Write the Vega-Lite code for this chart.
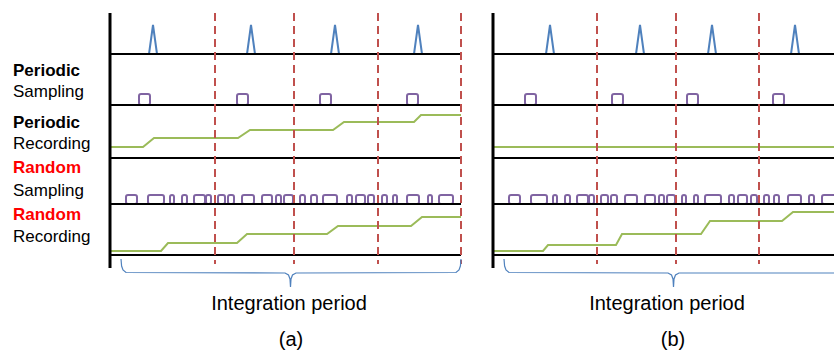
{
  "$schema": "https://vega.github.io/schema/vega-lite/v6.json",
  "width": 834,
  "height": 353,
  "padding": 0,
  "autosize": {"type": "none"},
  "config": {"view": {"stroke": null}},
  "datasets": {
    "pulses": [
      {"x": 139, "x2": 150, "y": 94, "y2": 105}, {"x": 237, "x2": 248, "y": 94, "y2": 105},
      {"x": 320, "x2": 331, "y": 94, "y2": 105}, {"x": 407, "x2": 418, "y": 94, "y2": 105},
      {"x": 525, "x2": 536, "y": 94, "y2": 105}, {"x": 612, "x2": 623, "y": 94, "y2": 105},
      {"x": 687, "x2": 698, "y": 94, "y2": 105}, {"x": 773, "x2": 784, "y": 94, "y2": 105},
      {"x": 126, "x2": 137, "y": 195, "y2": 204}, {"x": 148, "x2": 164, "y": 195, "y2": 204},
      {"x": 170, "x2": 174, "y": 195, "y2": 204}, {"x": 182, "x2": 187, "y": 195, "y2": 204},
      {"x": 194, "x2": 205, "y": 195, "y2": 204}, {"x": 206, "x2": 211, "y": 195, "y2": 204},
      {"x": 218, "x2": 225, "y": 195, "y2": 204}, {"x": 228, "x2": 234, "y": 195, "y2": 204},
      {"x": 242, "x2": 254, "y": 195, "y2": 204}, {"x": 262, "x2": 272, "y": 195, "y2": 204},
      {"x": 276, "x2": 281, "y": 195, "y2": 204}, {"x": 284, "x2": 293, "y": 195, "y2": 204},
      {"x": 300, "x2": 305, "y": 195, "y2": 204}, {"x": 311, "x2": 317, "y": 195, "y2": 204},
      {"x": 323, "x2": 337, "y": 195, "y2": 204}, {"x": 347, "x2": 352, "y": 195, "y2": 204},
      {"x": 356, "x2": 365, "y": 195, "y2": 204}, {"x": 368, "x2": 374, "y": 195, "y2": 204},
      {"x": 382, "x2": 387, "y": 195, "y2": 204}, {"x": 393, "x2": 397, "y": 195, "y2": 204},
      {"x": 407, "x2": 419, "y": 195, "y2": 204}, {"x": 428, "x2": 432, "y": 195, "y2": 204},
      {"x": 439, "x2": 453, "y": 195, "y2": 204},
      {"x": 509, "x2": 520, "y": 195, "y2": 204}, {"x": 531, "x2": 547, "y": 195, "y2": 204},
      {"x": 553, "x2": 557, "y": 195, "y2": 204}, {"x": 565, "x2": 570, "y": 195, "y2": 204},
      {"x": 577, "x2": 588, "y": 195, "y2": 204}, {"x": 589, "x2": 594, "y": 195, "y2": 204},
      {"x": 601, "x2": 608, "y": 195, "y2": 204}, {"x": 611, "x2": 617, "y": 195, "y2": 204},
      {"x": 625, "x2": 637, "y": 195, "y2": 204}, {"x": 645, "x2": 655, "y": 195, "y2": 204},
      {"x": 659, "x2": 664, "y": 195, "y2": 204}, {"x": 667, "x2": 675, "y": 195, "y2": 204},
      {"x": 682, "x2": 686, "y": 195, "y2": 204}, {"x": 694, "x2": 698, "y": 195, "y2": 204},
      {"x": 705, "x2": 721, "y": 195, "y2": 204}, {"x": 729, "x2": 734, "y": 195, "y2": 204},
      {"x": 738, "x2": 747, "y": 195, "y2": 204}, {"x": 751, "x2": 757, "y": 195, "y2": 204},
      {"x": 764, "x2": 769, "y": 195, "y2": 204}, {"x": 774, "x2": 779, "y": 195, "y2": 204},
      {"x": 788, "x2": 801, "y": 195, "y2": 204}, {"x": 809, "x2": 814, "y": 195, "y2": 204},
      {"x": 822, "x2": 837, "y": 195, "y2": 204}
    ],
    "hlines": [
      {"x": 110, "x2": 461, "y": 54}, {"x": 110, "x2": 461, "y": 105}, {"x": 110, "x2": 461, "y": 158},
      {"x": 110, "x2": 461, "y": 204}, {"x": 110, "x2": 461, "y": 255},
      {"x": 493, "x2": 834, "y": 54}, {"x": 493, "x2": 834, "y": 105}, {"x": 493, "x2": 834, "y": 158},
      {"x": 493, "x2": 834, "y": 204}, {"x": 493, "x2": 834, "y": 255}
    ],
    "vaxes": [
      {"x": 110, "y": 13, "y2": 268}, {"x": 493, "y": 13, "y2": 268}
    ],
    "dashes": [
      {"x": 215, "y": 13, "y2": 264}, {"x": 294, "y": 13, "y2": 264}, {"x": 378, "y": 13, "y2": 264},
      {"x": 461, "y": 13, "y2": 264}, {"x": 597, "y": 13, "y2": 264}, {"x": 676, "y": 13, "y2": 264},
      {"x": 759, "y": 13, "y2": 264}
    ],
    "spikes": [
      {"id": "a1", "x": 149, "y": 54}, {"id": "a1", "x": 153, "y": 25}, {"id": "a1", "x": 157, "y": 54},
      {"id": "a2", "x": 247, "y": 54}, {"id": "a2", "x": 251, "y": 25}, {"id": "a2", "x": 255, "y": 54},
      {"id": "a3", "x": 331, "y": 54}, {"id": "a3", "x": 335, "y": 25}, {"id": "a3", "x": 339, "y": 54},
      {"id": "a4", "x": 414, "y": 54}, {"id": "a4", "x": 418, "y": 25}, {"id": "a4", "x": 422, "y": 54},
      {"id": "b1", "x": 546, "y": 54}, {"id": "b1", "x": 550, "y": 25}, {"id": "b1", "x": 554, "y": 54},
      {"id": "b2", "x": 636, "y": 54}, {"id": "b2", "x": 640, "y": 25}, {"id": "b2", "x": 644, "y": 54},
      {"id": "b3", "x": 708, "y": 54}, {"id": "b3", "x": 712, "y": 25}, {"id": "b3", "x": 716, "y": 54},
      {"id": "b4", "x": 791, "y": 54}, {"id": "b4", "x": 795, "y": 25}, {"id": "b4", "x": 799, "y": 54}
    ],
    "steps": [
      {"id": "pa", "x": 110, "y": 147}, {"id": "pa", "x": 143, "y": 147}, {"id": "pa", "x": 154, "y": 138},
      {"id": "pa", "x": 238, "y": 138}, {"id": "pa", "x": 250, "y": 130}, {"id": "pa", "x": 333, "y": 130},
      {"id": "pa", "x": 344, "y": 122}, {"id": "pa", "x": 414, "y": 122}, {"id": "pa", "x": 421, "y": 115},
      {"id": "pa", "x": 461, "y": 115},
      {"id": "ra", "x": 110, "y": 251}, {"id": "ra", "x": 161, "y": 251}, {"id": "ra", "x": 168, "y": 243},
      {"id": "ra", "x": 237, "y": 243}, {"id": "ra", "x": 247, "y": 234}, {"id": "ra", "x": 327, "y": 234},
      {"id": "ra", "x": 338, "y": 226}, {"id": "ra", "x": 411, "y": 226}, {"id": "ra", "x": 422, "y": 217},
      {"id": "ra", "x": 461, "y": 217},
      {"id": "pb", "x": 493, "y": 147}, {"id": "pb", "x": 834, "y": 147},
      {"id": "rb", "x": 493, "y": 251}, {"id": "rb", "x": 543, "y": 251}, {"id": "rb", "x": 548, "y": 245},
      {"id": "rb", "x": 616, "y": 245}, {"id": "rb", "x": 622, "y": 234}, {"id": "rb", "x": 701, "y": 234},
      {"id": "rb", "x": 710, "y": 221}, {"id": "rb", "x": 782, "y": 221}, {"id": "rb", "x": 793, "y": 212},
      {"id": "rb", "x": 834, "y": 212}
    ],
    "braces": [
      {"id": "a", "x": 121, "y": 259}, {"id": "a", "x": 121.6, "y": 266}, {"id": "a", "x": 123, "y": 270},
      {"id": "a", "x": 126, "y": 272.5}, {"id": "a", "x": 285, "y": 273}, {"id": "a", "x": 288.5, "y": 275},
      {"id": "a", "x": 290, "y": 279}, {"id": "a", "x": 290.5, "y": 287}, {"id": "a", "x": 291, "y": 279},
      {"id": "a", "x": 292.5, "y": 275}, {"id": "a", "x": 296, "y": 273}, {"id": "a", "x": 456, "y": 272.5},
      {"id": "a", "x": 459, "y": 270}, {"id": "a", "x": 460.4, "y": 266}, {"id": "a", "x": 461, "y": 259},
      {"id": "b", "x": 504, "y": 259}, {"id": "b", "x": 504.6, "y": 266}, {"id": "b", "x": 506, "y": 270},
      {"id": "b", "x": 509, "y": 272.5}, {"id": "b", "x": 668, "y": 273}, {"id": "b", "x": 671.5, "y": 275},
      {"id": "b", "x": 673, "y": 279}, {"id": "b", "x": 673.5, "y": 287}, {"id": "b", "x": 674, "y": 279},
      {"id": "b", "x": 675.5, "y": 275}, {"id": "b", "x": 679, "y": 273}, {"id": "b", "x": 840, "y": 273}
    ],
    "labels": [
      {"t": "Periodic", "x": 13, "y": 76, "k": "bold"},
      {"t": "Sampling", "x": 13, "y": 97, "k": "norm"},
      {"t": "Periodic", "x": 13, "y": 128, "k": "bold"},
      {"t": "Recording", "x": 13, "y": 149, "k": "norm"},
      {"t": "Random", "x": 13, "y": 173, "k": "red"},
      {"t": "Sampling", "x": 13, "y": 196, "k": "norm"},
      {"t": "Random", "x": 13, "y": 220, "k": "red"},
      {"t": "Recording", "x": 13, "y": 242, "k": "norm"}
    ],
    "captions": [
      {"t": "Integration period", "x": 289, "y": 310},
      {"t": "Integration period", "x": 667, "y": 310},
      {"t": "(a)", "x": 291, "y": 346},
      {"t": "(b)", "x": 673, "y": 346}
    ]
  },
  "layer": [
    {
      "data": {"name": "pulses"},
      "mark": {"type": "rect", "stroke": "#8064A2", "strokeWidth": 2, "fill": "white", "fillOpacity": 0, "cornerRadius": 2},
      "encoding": {
        "x": {"field": "x", "type": "quantitative", "scale": {"domain": [0, 834], "nice": false, "zero": false}, "axis": null},
        "x2": {"field": "x2"},
        "y": {"field": "y", "type": "quantitative", "scale": {"domain": [0, 353], "nice": false, "zero": false, "reverse": true}, "axis": null},
        "y2": {"field": "y2"}
      }
    },
    {
      "data": {"name": "steps"},
      "mark": {"type": "line", "color": "#9BBB59", "strokeWidth": 2},
      "encoding": {
        "x": {"field": "x", "type": "quantitative"},
        "y": {"field": "y", "type": "quantitative"},
        "detail": {"field": "id"}
      }
    },
    {
      "data": {"name": "spikes"},
      "mark": {"type": "line", "color": "#4F81BD", "strokeWidth": 2},
      "encoding": {
        "x": {"field": "x", "type": "quantitative"},
        "y": {"field": "y", "type": "quantitative"},
        "detail": {"field": "id"}
      }
    },
    {
      "data": {"name": "hlines"},
      "mark": {"type": "rule", "color": "black", "strokeWidth": 2},
      "encoding": {
        "x": {"field": "x", "type": "quantitative"},
        "x2": {"field": "x2"},
        "y": {"field": "y", "type": "quantitative"}
      }
    },
    {
      "data": {"name": "dashes"},
      "mark": {"type": "rule", "color": "#C0504D", "strokeWidth": 2, "strokeDash": [8, 5]},
      "encoding": {
        "x": {"field": "x", "type": "quantitative"},
        "y": {"field": "y", "type": "quantitative"},
        "y2": {"field": "y2"}
      }
    },
    {
      "data": {"name": "vaxes"},
      "mark": {"type": "rule", "color": "black", "strokeWidth": 3},
      "encoding": {
        "x": {"field": "x", "type": "quantitative"},
        "y": {"field": "y", "type": "quantitative"},
        "y2": {"field": "y2"}
      }
    },
    {
      "data": {"name": "braces"},
      "mark": {"type": "line", "color": "#4F81BD", "strokeWidth": 1.2},
      "encoding": {
        "x": {"field": "x", "type": "quantitative"},
        "y": {"field": "y", "type": "quantitative"},
        "detail": {"field": "id"}
      }
    },
    {
      "data": {"name": "labels"},
      "transform": [{"filter": "datum.k === 'bold'"}],
      "mark": {"type": "text", "align": "left", "baseline": "alphabetic", "font": "Liberation Sans", "fontSize": 17, "fontWeight": "bold", "color": "black"},
      "encoding": {
        "x": {"field": "x", "type": "quantitative"},
        "y": {"field": "y", "type": "quantitative"},
        "text": {"field": "t"}
      }
    },
    {
      "data": {"name": "labels"},
      "transform": [{"filter": "datum.k === 'red'"}],
      "mark": {"type": "text", "align": "left", "baseline": "alphabetic", "font": "Liberation Sans", "fontSize": 17, "fontWeight": "bold", "color": "#FF0000"},
      "encoding": {
        "x": {"field": "x", "type": "quantitative"},
        "y": {"field": "y", "type": "quantitative"},
        "text": {"field": "t"}
      }
    },
    {
      "data": {"name": "labels"},
      "transform": [{"filter": "datum.k === 'norm'"}],
      "mark": {"type": "text", "align": "left", "baseline": "alphabetic", "font": "Liberation Sans", "fontSize": 17, "color": "black"},
      "encoding": {
        "x": {"field": "x", "type": "quantitative"},
        "y": {"field": "y", "type": "quantitative"},
        "text": {"field": "t"}
      }
    },
    {
      "data": {"name": "captions"},
      "mark": {"type": "text", "align": "center", "baseline": "alphabetic", "font": "Liberation Sans", "fontSize": 20, "color": "black"},
      "encoding": {
        "x": {"field": "x", "type": "quantitative"},
        "y": {"field": "y", "type": "quantitative"},
        "text": {"field": "t"}
      }
    }
  ]
}
